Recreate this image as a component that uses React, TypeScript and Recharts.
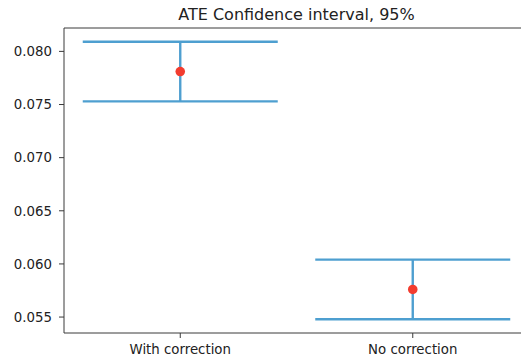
import React from 'react';
import { ComposedChart, Scatter, XAxis, YAxis, ErrorBar, ReferenceLine } from 'recharts';

const categories = ['With correction', 'No correction'];
const means = [0.0781, 0.0576];
const lowerBounds = [0.0753, 0.0548];
const upperBounds = [0.0809, 0.0604];
const yTicks = [0.055, 0.06, 0.065, 0.07, 0.075, 0.08];
const Y_MIN = 0.0535;
const Y_MAX = 0.0822;
const TITLE = 'ATE Confidence interval, 95%';

const data = categories.map((name, i) => ({
  pos: i,
  name,
  mean: means[i],
  err: [means[i] - lowerBounds[i], upperBounds[i] - means[i]],
}));
const xTicks = categories.map((_, i) => i);

const FONT = 'DejaVu Sans';
const TEXT = '#222';
const SPINE = '#3a3a3a';

const Dot = (props: any) => {
  const { cx, cy } = props;
  return <circle cx={cx} cy={cy} r={4.8} fill="#f23c2f" />;
};

export default function App() {
  return (
    <div style={{ margin: -8, width: 529, height: 362, background: '#fff' }}>
      <ComposedChart
        width={529}
        height={362}
        data={data}
        margin={{ top: 28, right: 0, bottom: 0, left: 0 }}
      >
        <XAxis
          dataKey="pos"
          type="number"
          domain={[-0.5, categories.length - 0.5]}
          ticks={xTicks}
          allowDataOverflow
          height={29}
          tickSize={5}
          tickMargin={7}
          tickFormatter={(v: number) => categories[v] ?? ''}
          axisLine={{ stroke: SPINE, strokeWidth: 1 }}
          tickLine={{ stroke: SPINE }}
          tick={{ fill: TEXT, fontSize: 13.33, fontFamily: FONT }}
          interval={0}
        />
        <YAxis
          type="number"
          domain={[Y_MIN, Y_MAX]}
          ticks={yTicks}
          allowDataOverflow
          width={64}
          tickSize={5}
          tickMargin={7}
          tickFormatter={(v: number) => v.toFixed(3)}
          axisLine={{ stroke: SPINE, strokeWidth: 1 }}
          tickLine={{ stroke: SPINE }}
          tick={{ fill: TEXT, fontSize: 13.33, fontFamily: FONT }}
        />
        <ReferenceLine
          y={Y_MAX}
          stroke={SPINE}
          strokeWidth={1}
          label={{
            value: TITLE,
            position: 'top',
            offset: 8,
            fill: TEXT,
            fontSize: 16,
            fontFamily: FONT,
          }}
        />
        <Scatter dataKey="mean" isAnimationActive={false} shape={Dot}>
          <ErrorBar
            dataKey="err"
            direction="y"
            width={97.5}
            stroke="#4e9fd0"
            strokeWidth={2.4}
            isAnimationActive={false}
          />
        </Scatter>
      </ComposedChart>
    </div>
  );
}
